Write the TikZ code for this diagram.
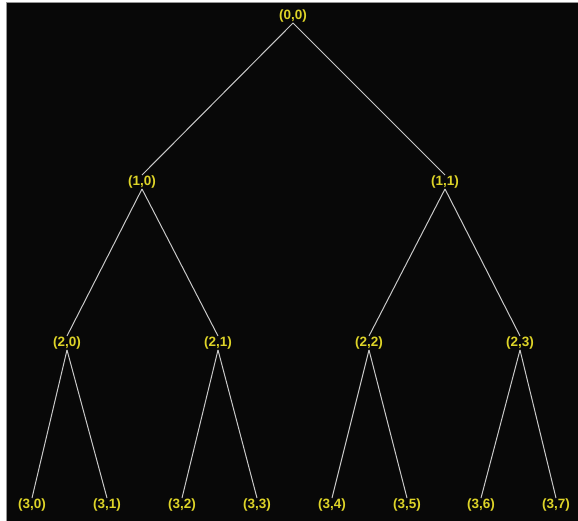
\documentclass[tikz,border=0pt]{standalone}
\usepackage{fontspec}
\setmainfont{Liberation Sans}
\definecolor{lab}{RGB}{222,212,40}
\definecolor{edge}{RGB}{200,200,200}
\definecolor{frame}{RGB}{150,150,150}
\begin{document}
\begin{tikzpicture}[x=1pt,y=-1pt,
  lbl/.style={text=lab,font=\bfseries\fontsize{13.5}{15}\selectfont,inner sep=0.5pt},
  link/.style={draw=edge,line width=1pt}]
\useasboundingbox (0,0) rectangle (578,521);
\fill[white] (0,0) rectangle (578,521);
\fill[black!97] (6,3) rectangle (578,521);
\draw[frame,line width=1pt] (6,521) -- (6,2.5) -- (578,2.5);
\node[lbl] (n00) at (293,16) {(0,0)};
\node[lbl] (n10) at (142,182) {(1,0)};
\node[lbl] (n11) at (445,182) {(1,1)};
\node[lbl] (n20) at (67,343) {(2,0)};
\node[lbl] (n21) at (218,343) {(2,1)};
\node[lbl] (n22) at (369,343) {(2,2)};
\node[lbl] (n23) at (520,343) {(2,3)};
\node[lbl] (n30) at (32,505) {(3,0)};
\node[lbl] (n31) at (107,505) {(3,1)};
\node[lbl] (n32) at (182,505) {(3,2)};
\node[lbl] (n33) at (257,505) {(3,3)};
\node[lbl] (n34) at (332,505) {(3,4)};
\node[lbl] (n35) at (407,505) {(3,5)};
\node[lbl] (n36) at (481,505) {(3,6)};
\node[lbl] (n37) at (556,505) {(3,7)};
\foreach \p/\c in {n00/n10,n00/n11,n10/n20,n10/n21,n11/n22,n11/n23,
  n20/n30,n20/n31,n21/n32,n21/n33,n22/n34,n22/n35,n23/n36,n23/n37}
  \draw[link] (\p.south) -- (\c.north);
\end{tikzpicture}
\end{document}
